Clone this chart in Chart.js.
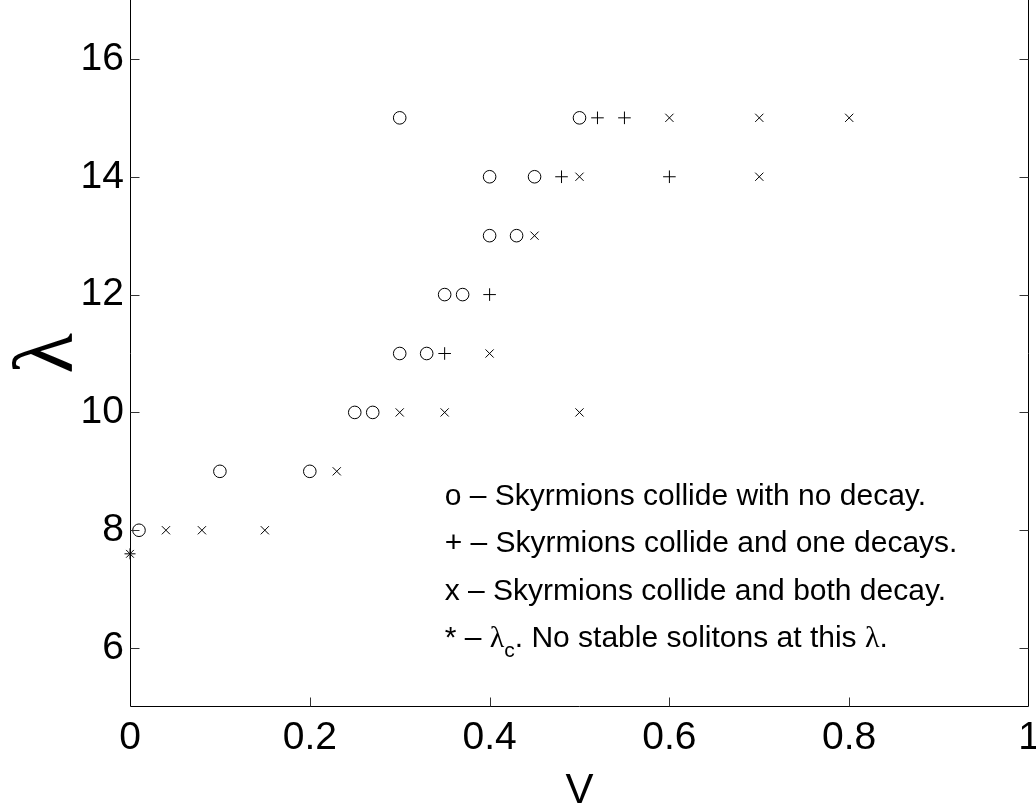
<!DOCTYPE html>
<html>
<head>
<meta charset="utf-8">
<script src="https://cdn.jsdelivr.net/npm/chart.js@4/dist/chart.umd.min.js"></script>
<style>
  html, body { margin: 0; padding: 0; background: #fff; }
  #wrap { width: 1036px; height: 809px; }
</style>
</head>
<body>
<div id="wrap"><canvas id="c" width="1036" height="809"></canvas></div>
<script>
// ---- data ----
const xTicks = [0, 0.2, 0.4, 0.6, 0.8, 1];
const yTicks = [6, 8, 10, 12, 14, 16];

// o - Skyrmions collide with no decay
const noDecayV = [0.3, 0.5, 0.4, 0.45, 0.4, 0.43, 0.35, 0.37, 0.3, 0.33, 0.25, 0.27, 0.1, 0.2, 0.01];
const noDecayL = [15, 15, 14, 14, 13, 13, 12, 12, 11, 11, 10, 10, 9, 9, 8];

// + - Skyrmions collide and one decays
const oneDecayV = [0.52, 0.55, 0.48, 0.6, 0.4, 0.35];
const oneDecayL = [15, 15, 14, 14, 12, 11];

// x - Skyrmions collide and both decay
const bothDecayV = [0.6, 0.7, 0.8, 0.5, 0.7, 0.45, 0.4, 0.3, 0.35, 0.5, 0.23, 0.04, 0.08, 0.15];
const bothDecayL = [15, 15, 15, 14, 14, 13, 11, 10, 10, 10, 9, 8, 8, 8];

// * - lambda_c
const critV = [0];
const critL = [7.6];

const legendLines = [
  'o \u2013 Skyrmions collide with no decay.',
  '+ \u2013 Skyrmions collide and one decays.',
  'x \u2013 Skyrmions collide and both decay.'
];

function pts(xs, ys) { return xs.map((x, i) => ({ x: x, y: ys[i] })); }

const SANS = '"Liberation Sans", Arial, Helvetica, sans-serif';
const SERIF = '"Liberation Serif", "Times New Roman", serif';

const framePlugin = {
  id: 'frame',
  afterDraw(chart) {
    const ctx = chart.ctx;
    const a = chart.chartArea;
    const xs = chart.scales.x, ys = chart.scales.y;
    const L = Math.round(a.left) + 0.5, R = Math.round(a.right) - 0.5, B = Math.round(a.bottom) - 0.5;
    ctx.save();
    ctx.strokeStyle = '#000';
    ctx.lineWidth = 1;
    ctx.beginPath();
    ctx.moveTo(L, 0); ctx.lineTo(L, B); ctx.lineTo(R, B); ctx.lineTo(R, 0);
    ctx.stroke();
    // inward ticks
    ctx.strokeStyle = '#333';
    ctx.beginPath();
    yTicks.forEach(v => {
      const py = Math.round(ys.getPixelForValue(v)) + 0.5;
      ctx.moveTo(L, py); ctx.lineTo(L + 9, py);
      ctx.moveTo(R, py); ctx.lineTo(R - 9, py);
    });
    xTicks.forEach(v => {
      if (v === 0 || v === 1) return;
      const px = Math.round(xs.getPixelForValue(v)) + 0.5;
      ctx.moveTo(px, B); ctx.lineTo(px, B - 9);
    });
    ctx.stroke();

    // annotation text
    const x0 = xs.getPixelForValue(0.35);
    const y0 = 505;
    const step = 47.3;
    ctx.fillStyle = '#000';
    ctx.textBaseline = 'alphabetic';
    ctx.textAlign = 'left';
    ctx.font = '30px ' + SANS;
    legendLines.forEach((t, i) => ctx.fillText(t, x0, y0 + i * step));
    // 4th line with subscript
    let yy = y0 + 3 * step;
    let xx = x0;
    const part1 = '* \u2013 ';
    ctx.font = '30px ' + SANS;
    ctx.fillText(part1, xx, yy); xx += ctx.measureText(part1).width;
    ctx.font = '30px ' + SERIF;
    ctx.fillText('\u03bb', xx, yy); xx += ctx.measureText('\u03bb').width;
    ctx.font = '21px ' + SANS;
    ctx.fillText('c', xx, yy + 10); xx += ctx.measureText('c').width;
    ctx.font = '30px ' + SANS;
    const part2 = '. No stable solitons at this ';
    ctx.fillText(part2, xx, yy); xx += ctx.measureText(part2).width;
    ctx.font = '30px ' + SERIF;
    ctx.fillText('\u03bb', xx, yy); xx += ctx.measureText('\u03bb').width;
    ctx.font = '30px ' + SANS;
    ctx.fillText('.', xx, yy);
    ctx.restore();
  }
};

const common = { showLine: false, clip: false, backgroundColor: 'rgba(0,0,0,0)', borderColor: '#000', pointBorderWidth: 1 };

new Chart(document.getElementById('c'), {
  type: 'scatter',
  data: {
    datasets: [
      Object.assign({ label: 'no decay', data: pts(noDecayV, noDecayL), pointStyle: 'circle', pointRadius: 6.3, pointBackgroundColor: 'rgba(0,0,0,0)' }, common),
      Object.assign({ label: 'one decays', data: pts(oneDecayV, oneDecayL), pointStyle: 'cross', pointRadius: 6.3 }, common),
      Object.assign({ label: 'both decay', data: pts(bothDecayV, bothDecayL), pointStyle: 'crossRot', pointRadius: 5.8 }, common),
      Object.assign({ label: 'lambda_c', data: pts(critV, critL), pointStyle: 'star', pointRadius: 5.5 }, common)
    ]
  },
  options: {
    responsive: false,
    animation: false,
    devicePixelRatio: 1,
    layout: { autoPadding: false, padding: { left: 0, right: 7, top: 0, bottom: 0 } },
    plugins: { legend: { display: false }, tooltip: { enabled: false } },
    elements: { point: { hoverRadius: 6 } },
    scales: {
      x: {
        type: 'linear', min: 0, max: 1,
        grid: { display: false, drawTicks: false },
        border: { display: false },
        afterBuildTicks: s => { s.ticks = xTicks.map(v => ({ value: v })); },
        afterFit: s => { s.height = 102; s.paddingLeft = 0; s.paddingRight = 0; },
        ticks: { color: '#000', padding: 8, maxRotation: 0, autoSkip: false, font: { family: SANS, size: 39 },
                 callback: v => String(v) },
        title: { display: true, text: 'V', color: '#000', font: { family: SANS, size: 42, lineHeight: 1 }, padding: { top: 0, bottom: -3 } }
      },
      y: {
        type: 'linear', min: 5, max: 17,
        grid: { display: false, drawTicks: false },
        border: { display: false },
        afterBuildTicks: s => { s.ticks = yTicks.map(v => ({ value: v })); },
        afterFit: s => { s.width = 130; s.paddingTop = 0; s.paddingBottom = 0; },
        ticks: { color: '#000', padding: 6, autoSkip: false, font: { family: SANS, size: 39 },
                 callback: v => String(v) },
        title: { display: true, text: '\u03bb', color: '#000', font: { family: SERIF, size: 84, lineHeight: 1 }, padding: { top: 7.5, bottom: 0 } }
      }
    }
  },
  plugins: [framePlugin]
});
</script>
</body>
</html>
